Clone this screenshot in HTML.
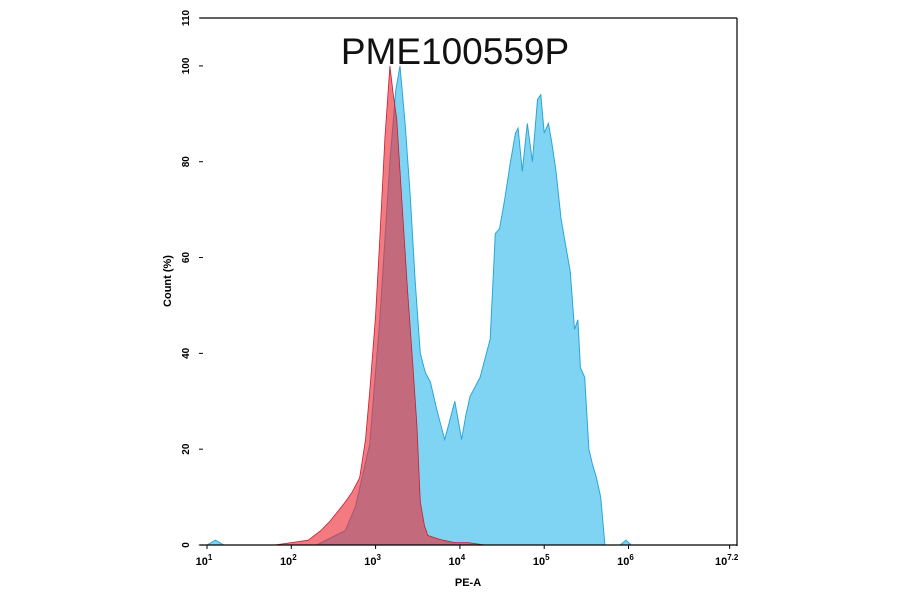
<!DOCTYPE html>
<html><head><meta charset="utf-8"><style>
body{margin:0;background:#fff;}
svg text{font-family:"Liberation Sans",sans-serif;}
</style></head><body>
<svg width="900" height="594" viewBox="0 0 900 594" xmlns="http://www.w3.org/2000/svg">
<g id="marks"></g>
<g id="axes"></g>
<text x="455" y="64" font-size="37" text-anchor="middle" fill="#111">PME100559P</text>
<text x="0" y="0" transform="translate(171,281) rotate(-90)" font-size="11" font-weight="bold" text-anchor="middle">Count (%)</text>
<text x="468" y="586" font-size="11" font-weight="bold" text-anchor="middle">PE-A</text>
</svg>
<script>
const blueX=[0.9,1.0,1.1,1.2,1.3,2.3,2.64,2.76,2.93,3.05,3.17,3.24,3.29,3.35,3.41,3.47,3.53,3.59,3.65,3.73,3.82,3.88,3.94,3.98,4.02,4.07,4.12,4.24,4.36,4.42,4.47,4.53,4.6,4.66,4.69,4.74,4.8,4.86,4.92,4.96,5.0,5.05,5.09,5.14,5.2,5.26,5.31,5.36,5.4,5.43,5.48,5.53,5.57,5.62,5.67,5.72,5.8,5.9,5.97,6.03,6.1];
const blueY=[0,0,1,0,0,0,3,8,21,47,80,95,100,88,73,55,40,36,34,28,22,26,30,26,22,27,31,35,43,65,66,72,80,86,87,78,88,80,93,94,86,88,84,78,68,62,57,45,47,37,35,20,17,14,10,0,0,0,1,0,0];
const redX=[1.8,2.0,2.2,2.35,2.46,2.55,2.64,2.72,2.81,2.88,2.93,3.0,3.05,3.11,3.17,3.21,3.25,3.3,3.38,3.44,3.49,3.53,3.58,3.62,3.7,3.8,3.94,4.1,4.3];
const redY=[0,0.5,1,3,5,7,9,11,14,22,32,48,64,85,100,94,89,75,53,38,25,9,4,2,1.5,1,0.5,0.5,0];
const yTicks=[0,20,40,60,80,100,110];
const xTicks=[1,2,3,4,5,6,7.2];
const xTickLabels=["1","2","3","4","5","6","7.2"];

const X0=207,DEC=84.3,Y0=545,PY=527/110;
const sx=v=>X0+(v-1)*DEC, sy=v=>Y0-v*PY;
const NS="http://www.w3.org/2000/svg";
function mk(tag,attrs,parent){const e=document.createElementNS(NS,tag);for(const k in attrs)e.setAttribute(k,attrs[k]);parent.appendChild(e);return e;}
function areaPath(xs,ys){let d="M"+sx(xs[0])+","+Y0;for(let i=0;i<xs.length;i++)d+=" L"+sx(xs[i]).toFixed(1)+","+sy(ys[i]).toFixed(1);d+=" L"+sx(xs[xs.length-1])+","+Y0+" Z";return d;}
const marks=document.getElementById('marks');
const b=mk('path',{d:areaPath(blueX,blueY),fill:'#80d4f3',stroke:'#2aa6d6','stroke-width':1},marks);


const r=mk('path',{d:areaPath(redX,redY),fill:'rgb(238,41,51)','fill-opacity':0.62,stroke:'#c02030','stroke-width':0.8},marks);



const ax=document.getElementById('axes');
const l1=mk('line',{x1:200,y1:18,x2:737,y2:18,stroke:'#000','stroke-width':1.2},ax);


const l2=mk('line',{x1:737,y1:18,x2:737,y2:546,stroke:'#000','stroke-width':1.2},ax);


const l3=mk('line',{x1:200,y1:545,x2:737,y2:545,stroke:'#000','stroke-width':1.2},ax);


yTicks.forEach(v=>{
  const t=mk('text',{transform:`translate(189,${sy(v)}) rotate(-90)`,'font-size':10,'font-weight':'bold','text-anchor':'middle'},ax);
  t.textContent=v;
  
  
  const tk=mk('line',{x1:199,y1:sy(v),x2:203,y2:sy(v),stroke:'#000','stroke-width':1},ax);
  
  
});
xTicks.forEach((v,i)=>{
  const g=mk('text',{x:sx(v)-3,y:565,'font-size':11,'font-weight':'bold','text-anchor':'middle'},ax);
  g.textContent="10";
  const s=mk('tspan',{dy:-5,'font-size':8},g);
  s.textContent=xTickLabels[i];
  
  
  const tk=mk('line',{x1:sx(v),y1:545,x2:sx(v),y2:549,stroke:'#000','stroke-width':1},ax);
  
  
});
</script>
</body></html>
